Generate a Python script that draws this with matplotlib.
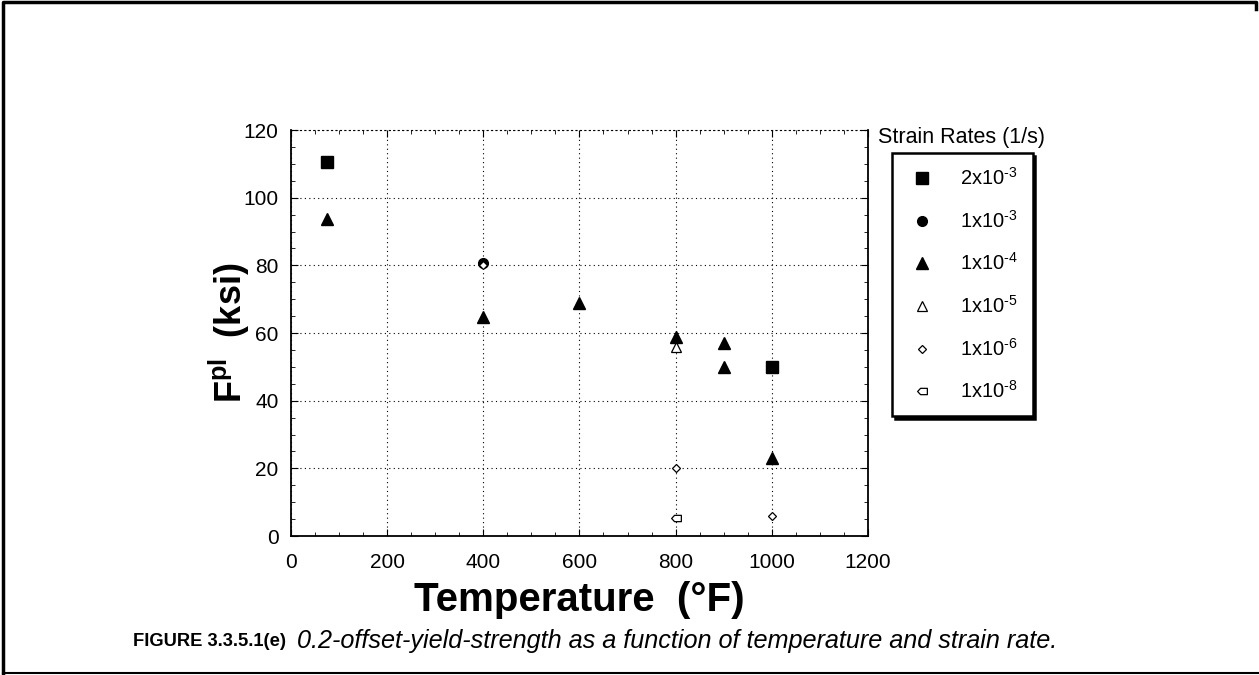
import matplotlib.pyplot as plt
from matplotlib.path import Path
from matplotlib.ticker import MultipleLocator

plt.rcParams['font.family'] = ['Liberation Sans', 'DejaVu Sans']
plt.rcParams['mathtext.fontset'] = 'custom'
plt.rcParams['mathtext.rm'] = 'Liberation Sans'
plt.rcParams['mathtext.bf'] = 'Liberation Sans:bold'
plt.rcParams['mathtext.it'] = 'Liberation Sans:italic'

# data: temperature (F), yield strength (ksi)
temp_2e3 = [75, 1000]
fty_2e3 = [110.5, 50.0]
temp_1e3 = [400, 1000]
fty_1e3 = [80.8, 50.0]
temp_1e4 = [75, 400, 600, 800, 900, 900, 1000]
fty_1e4 = [93.7, 64.8, 68.9, 58.9, 57.0, 50.0, 23.1]
temp_1e5 = [800]
fty_1e5 = [55.8]
temp_1e6 = [400, 800, 1000]
fty_1e6 = [80.0, 20.0, 6.0]
temp_1e8 = [800]
fty_1e8 = [5.4]

labels = [r'2x10$^{\text{-3}}$', r'1x10$^{\text{-3}}$', r'1x10$^{\text{-4}}$',
          r'1x10$^{\text{-5}}$', r'1x10$^{\text{-6}}$', r'1x10$^{\text{-8}}$']

# little "house" marker pointing left for the 1e-8 series
house = Path([(-1, 0), (-0.4, 0.65), (1, 0.65), (1, -0.65), (-0.4, -0.65), (-1, 0)],
             [Path.MOVETO, Path.LINETO, Path.LINETO, Path.LINETO, Path.LINETO, Path.CLOSEPOLY])

fig = plt.figure(figsize=(12.59, 6.75), dpi=100)
ax = fig.add_axes([0.2311, 0.2059, 0.4583, 0.6015])

ax.plot(temp_2e3, fty_2e3, 's', color='black', ms=9, ls='none', label=labels[0])
ax.plot(temp_1e3, fty_1e3, 'o', color='black', ms=7, ls='none', label=labels[1])
ax.plot(temp_1e4, fty_1e4, '^', color='black', ms=8, ls='none', label=labels[2])
ax.plot(temp_1e5, fty_1e5, '^', mfc='white', mec='black', mew=0.9, ms=7, ls='none', label=labels[3])
ax.plot(temp_1e6, fty_1e6, 'D', mfc='white', mec='black', mew=0.9, ms=4.5, ls='none', label=labels[4])
ax.plot(temp_1e8, fty_1e8, marker=house, mfc='white', mec='black', mew=0.9, ms=7, ls='none', label=labels[5])

ax.set_xlim(0, 1200)
ax.set_ylim(0, 120)
ax.xaxis.set_major_locator(MultipleLocator(200))
ax.xaxis.set_minor_locator(MultipleLocator(50))
ax.yaxis.set_major_locator(MultipleLocator(20))
ax.yaxis.set_minor_locator(MultipleLocator(5))
ax.tick_params(which='both', direction='in', top=True, right=True, labelsize=15)
ax.tick_params(which='major', length=5)
ax.tick_params(which='minor', length=3)
ax.tick_params(axis='x', which='major', pad=12)
ax.tick_params(axis='y', which='major', pad=9)
ax.grid(True, which='major', color='black', lw=0.8, ls=(0, (1, 3)))
for side in ['left', 'bottom', 'right']:
    ax.spines[side].set_linewidth(1.3)
ax.spines['top'].set_linestyle((0, (1, 3)))
ax.spines['top'].set_linewidth(0.8)

ax.set_xlabel('Temperature  (\u00b0F)', fontsize=29, fontweight='bold', labelpad=7)
ax.set_ylabel(r'F$^{\mathbf{pl}}$  (ksi)', fontsize=26, fontweight='bold', labelpad=-6)

leg = ax.legend(loc='upper left', bbox_to_anchor=(892 / 1259, 1 - 153 / 675),
                bbox_transform=fig.transFigure, frameon=True, fancybox=False,
                shadow={'color': 'black', 'alpha': 1}, edgecolor='black',
                fontsize=14.5, labelspacing=1.03, borderpad=0.7, handletextpad=1.1,
                borderaxespad=0, handlelength=1.6)
leg.get_frame().set_linewidth(1.8)
fig.text(878 / 1259, 1 - 138 / 675, 'Strain Rates (1/s)', fontsize=15.5, va='center', ha='left')

# caption
fig.text(133 / 1259, 1 - 641 / 675, 'FIGURE 3.3.5.1(e)', fontsize=13.2, fontweight='bold', va='center')
fig.text(297 / 1259, 1 - 641 / 675,
         '0.2-offset-yield-strength as a function of temperature and strain rate.',
         fontsize=18.2, fontstyle='italic', va='center')

# page frame
fig.add_artist(plt.Line2D([3 / 1259, 3 / 1259, 1256 / 1259, 1256 / 1259],
                          [0, 1 - 2 / 675, 1 - 2 / 675, 1 - 9 / 675],
                          transform=fig.transFigure, color='black', lw=2.5))
fig.add_artist(plt.Line2D([3 / 1259, 1], [1 - 673 / 675, 1 - 673 / 675],
                          transform=fig.transFigure, color='black', lw=1.5))

fig.savefig('out.png', dpi=100)
